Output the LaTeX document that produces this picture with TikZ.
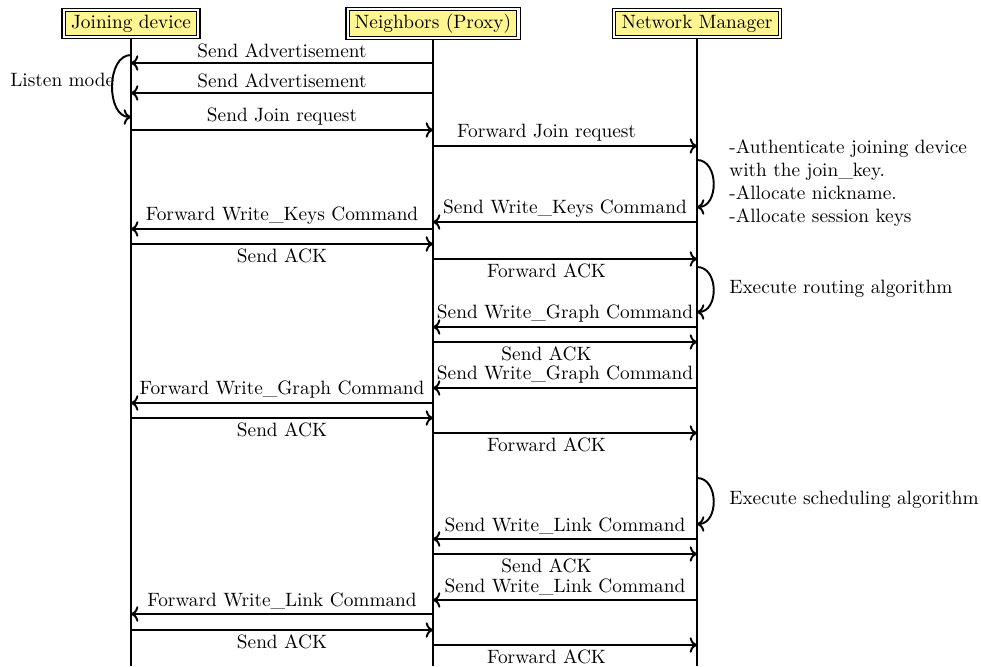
\documentclass[tikz,border=0pt]{standalone}
\usetikzlibrary{arrows.meta}
\definecolor{boxyellow}{RGB}{255,245,145}
\begin{document}
\begin{tikzpicture}[x=0.518pt,y=-0.518pt,
  actor/.style={draw, line width=0.6pt, fill=boxyellow, inner xsep=3pt, inner ysep=1.6pt},
  frame/.style={line width=0.6pt},
  life/.style={line width=1pt},
  msg/.style={line width=1pt,->},
  lbl/.style={inner sep=2pt},
  note/.style={align=left, anchor=west, inner sep=0pt}]
\useasboundingbox (0,0) rectangle (981,666);
% actors
\node[actor] (jd) at (131,23.5) {Joining device};
\node[actor] (px) at (433,23.5) {Neighbors (Proxy)};
\node[actor] (nm) at (697,23.5) {Network Manager};
\foreach \a in {jd,px,nm}
  \draw[frame] ([shift={(-1.4pt,1.4pt)}]\a.north west) rectangle ([shift={(1.4pt,-1.4pt)}]\a.south east);
\coordinate (jdb) at (131,666);
\coordinate (pxb) at (433,666);
\coordinate (nmb) at (697,666);
\draw[life] ([yshift=-1.4pt]jd.south) -- (jdb);
\draw[life] ([yshift=-1.4pt]px.south) -- (pxb);
\draw[life] ([yshift=-1.4pt]nm.south) -- (nmb);
% listen mode
\draw[msg] (jd |- 0,55) .. controls +(-25,0) and +(-25,0) .. (jd |- 0,117);
\node[note] (lm) at (10,80) {Listen mode};
% messages
\draw[msg] (px |- 0,63) -- node[lbl,above] (m1) {Send Advertisement} (jd |- 0,63);
\draw[msg] (px |- 0,93) -- node[lbl,above] (m2) {Send Advertisement} (jd |- 0,93);
\draw[msg] (jd |- 0,130) -- node[lbl,above] (m3) {Send Join request} (px |- 0,130);
\draw[msg] (px |- 0,146) -- node[lbl,above,pos=0.43] (m4) {Forward Join request} (nm |- 0,146);
% authenticate loop
\draw[msg] (nm |- 0,160) .. controls +(22,0) and +(22,0) .. (nm |- 0,207);
\node[note] (n1) at (729,183) {-Authenticate joining device\\with the join\_key.\\-Allocate nickname.\\-Allocate session keys};
\draw[msg] (nm |- 0,222) -- node[lbl,above] (m5) {Send Write\_Keys Command} (px |- 0,222);
\draw[msg] (px |- 0,229) -- node[lbl,above] (m6) {Forward Write\_Keys Command} (jd |- 0,229);
\draw[msg] (jd |- 0,244) -- node[lbl,below] (m7) {Send ACK} (px |- 0,244);
\draw[msg] (px |- 0,259) -- node[lbl,below,pos=0.43] (m8) {Forward ACK} (nm |- 0,259);
% routing loop
\draw[msg] (nm |- 0,267) .. controls +(22,0) and +(22,0) .. (nm |- 0,312);
\node[note] (n2) at (729,289) {Execute routing algorithm};
\draw[msg] (nm |- 0,327) -- node[lbl,above] (m9) {Send Write\_Graph Command} (px |- 0,327);
\draw[msg] (px |- 0,342) -- node[lbl,below,pos=0.43] (m10) {Send ACK} (nm |- 0,342);
\draw[msg] (nm |- 0,388) -- node[lbl,above] (m11) {Send Write\_Graph Command} (px |- 0,388);
\draw[msg] (px |- 0,403) -- node[lbl,above] (m12) {Forward Write\_Graph Command} (jd |- 0,403);
\draw[msg] (jd |- 0,418) -- node[lbl,below] (m13) {Send ACK} (px |- 0,418);
\draw[msg] (px |- 0,433) -- node[lbl,below,pos=0.43] (m14) {Forward ACK} (nm |- 0,433);
% scheduling loop
\draw[msg] (nm |- 0,478) .. controls +(22,0) and +(22,0) .. (nm |- 0,524);
\node[note] (n3) at (729,500) {Execute scheduling algorithm};
\draw[msg] (nm |- 0,539) -- node[lbl,above] (m15) {Send Write\_Link Command} (px |- 0,539);
\draw[msg] (px |- 0,554) -- node[lbl,below,pos=0.43] (m16) {Send ACK} (nm |- 0,554);
\draw[msg] (nm |- 0,600) -- node[lbl,above] (m17) {Send Write\_Link Command} (px |- 0,600);
\draw[msg] (px |- 0,614) -- node[lbl,above] (m18) {Forward Write\_Link Command} (jd |- 0,614);
\draw[msg] (jd |- 0,630) -- node[lbl,below] (m19) {Send ACK} (px |- 0,630);
\draw[msg] (px |- 0,645) -- node[lbl,below,pos=0.43] (m20) {Forward ACK} (nm |- 0,645);
\end{tikzpicture}
\end{document}
